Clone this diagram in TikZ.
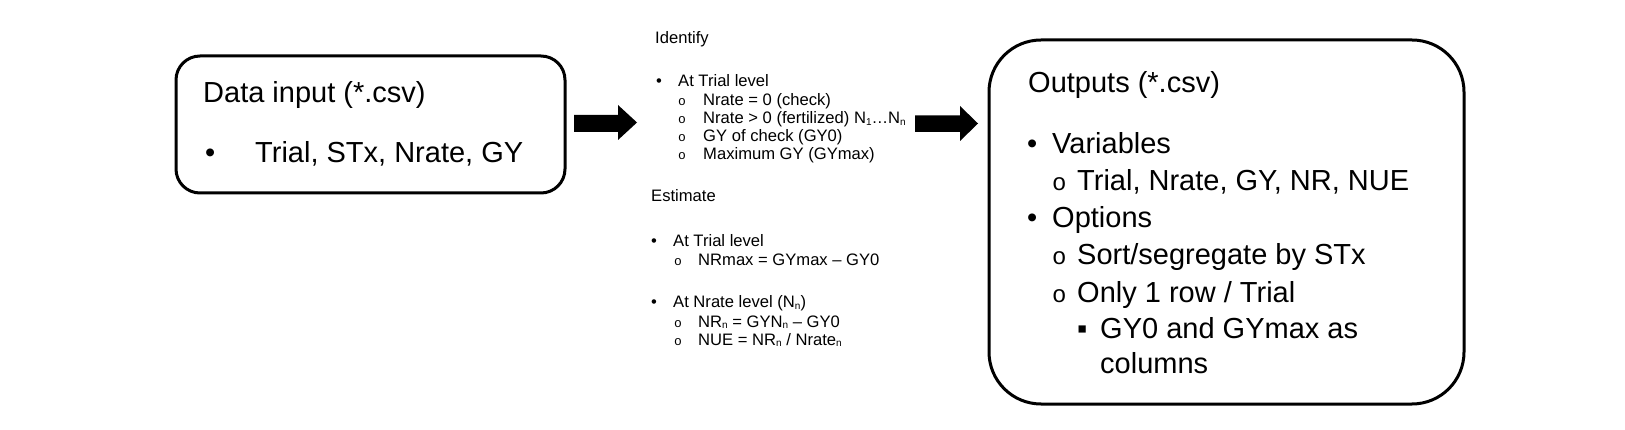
\documentclass[tikz,border=0pt]{standalone}
\usepackage{fontspec}
\setmainfont{Liberation Sans}
\newfontfamily\monofnt{Liberation Mono}
\newcommand\mysub[1]{\raisebox{-1.5pt}{\fontsize{10}{10}\selectfont #1}}
\begin{document}
\begin{tikzpicture}[x=1pt,y=-1pt,
  big/.style={font=\fontsize{29}{35}\selectfont, anchor=base west, inner sep=0pt},
  small/.style={font=\fontsize{16.6}{20}\selectfont, anchor=base west, inner sep=0pt},
  bigo/.style={font=\monofnt\fontsize{24}{30}\selectfont, anchor=base west, inner sep=0pt},
  smallo/.style={font=\monofnt\fontsize{13}{20}\selectfont, anchor=base west, inner sep=0pt},
  box/.style={draw, line width=3pt, inner sep=0pt},
  blockarrow/.style={fill=black}]
\useasboundingbox (0,0) rectangle (1625,430);
% boxes
\node[box, rounded corners=24pt, minimum width=389pt, minimum height=137pt] (inbox) at (370.5,124.5) {};
\node[box, rounded corners=52pt, minimum width=475pt, minimum height=364pt] (outbox) at (1226.5,222) {};
% block arrows
\fill[blockarrow] (574,115) -- (618,115) -- (618,105) -- (637,122.5) -- (618,140) -- (618,132) -- (574,132) -- cycle;
\fill[blockarrow] (915,115.5) -- (960,115.5) -- (960,106) -- (978,123.5) -- (960,141) -- (960,132) -- (915,132) -- cycle;
% left box text
\node[big] (intitle) at (203,103) {Data input (*.csv)};
\node[big] (inb) at (205,163) {•};
\node[big] (init) at (255,163) {Trial, STx, Nrate, GY};
% middle text
\node[small] (idt) at (655,44) {Identify};
\node[small] (idb1) at (656,87) {•};
\node[small] (idl1) at (678,87) {At Trial level};
\node[smallo] (ido1) at (678,106) {o};
\node[small] (idl2) at (703,106) {Nrate = 0 (check)};
\node[smallo] (ido2) at (678,124) {o};
\node[small] (idl3) at (703,124) {Nrate > 0 (fertilized) N\mysub{1}…N\mysub{n}};
\node[smallo] (ido3) at (678,142) {o};
\node[small] (idl4) at (703,142) {GY of check (GY0)};
\node[smallo] (ido4) at (678,160) {o};
\node[small] (idl5) at (703,160) {Maximum GY (GYmax)};
\node[small] (est) at (651,202) {Estimate};
\node[small] (esb1) at (651,247) {•};
\node[small] (esl1) at (673,247) {At Trial level};
\node[smallo] (eso1) at (674,266) {o};
\node[small] (esl2) at (698,266) {NRmax = GYmax – GY0};
\node[small] (esb2) at (651,308) {•};
\node[small] (esl3) at (673,308) {At Nrate level (N\mysub{n})};
\node[smallo] (eso2) at (674,327) {o};
\node[small] (esl4) at (698,327) {NR\mysub{n} = GYN\mysub{n} – GY0};
\node[smallo] (eso3) at (674,345) {o};
\node[small] (esl5) at (698,345) {NUE = NR\mysub{n} / Nrate\mysub{n}};
% right box text
\node[big] (outtitle) at (1028,93) {Outputs (*.csv)};
\node[big] (ob1) at (1027,154) {•};
\node[big] (ol1) at (1052,154) {Variables};
\node[bigo] (oo1) at (1052,191) {o};
\node[big] (ol2) at (1077,191) {Trial, Nrate, GY, NR, NUE};
\node[big] (ob2) at (1027,228) {•};
\node[big] (ol3) at (1052,228) {Options};
\node[bigo] (oo2) at (1052,265) {o};
\node[big] (ol4) at (1077,265) {Sort/segregate by STx};
\node[bigo] (oo3) at (1052,302) {o};
\node[big] (ol5) at (1077,302) {Only 1 row / Trial};
\node[big] (os1) at (1077,338) {▪};
\node[big] (ol6) at (1100,338) {GY0 and GYmax as};
\node[big] (ol7) at (1100,373) {columns};
\end{tikzpicture}
\end{document}
